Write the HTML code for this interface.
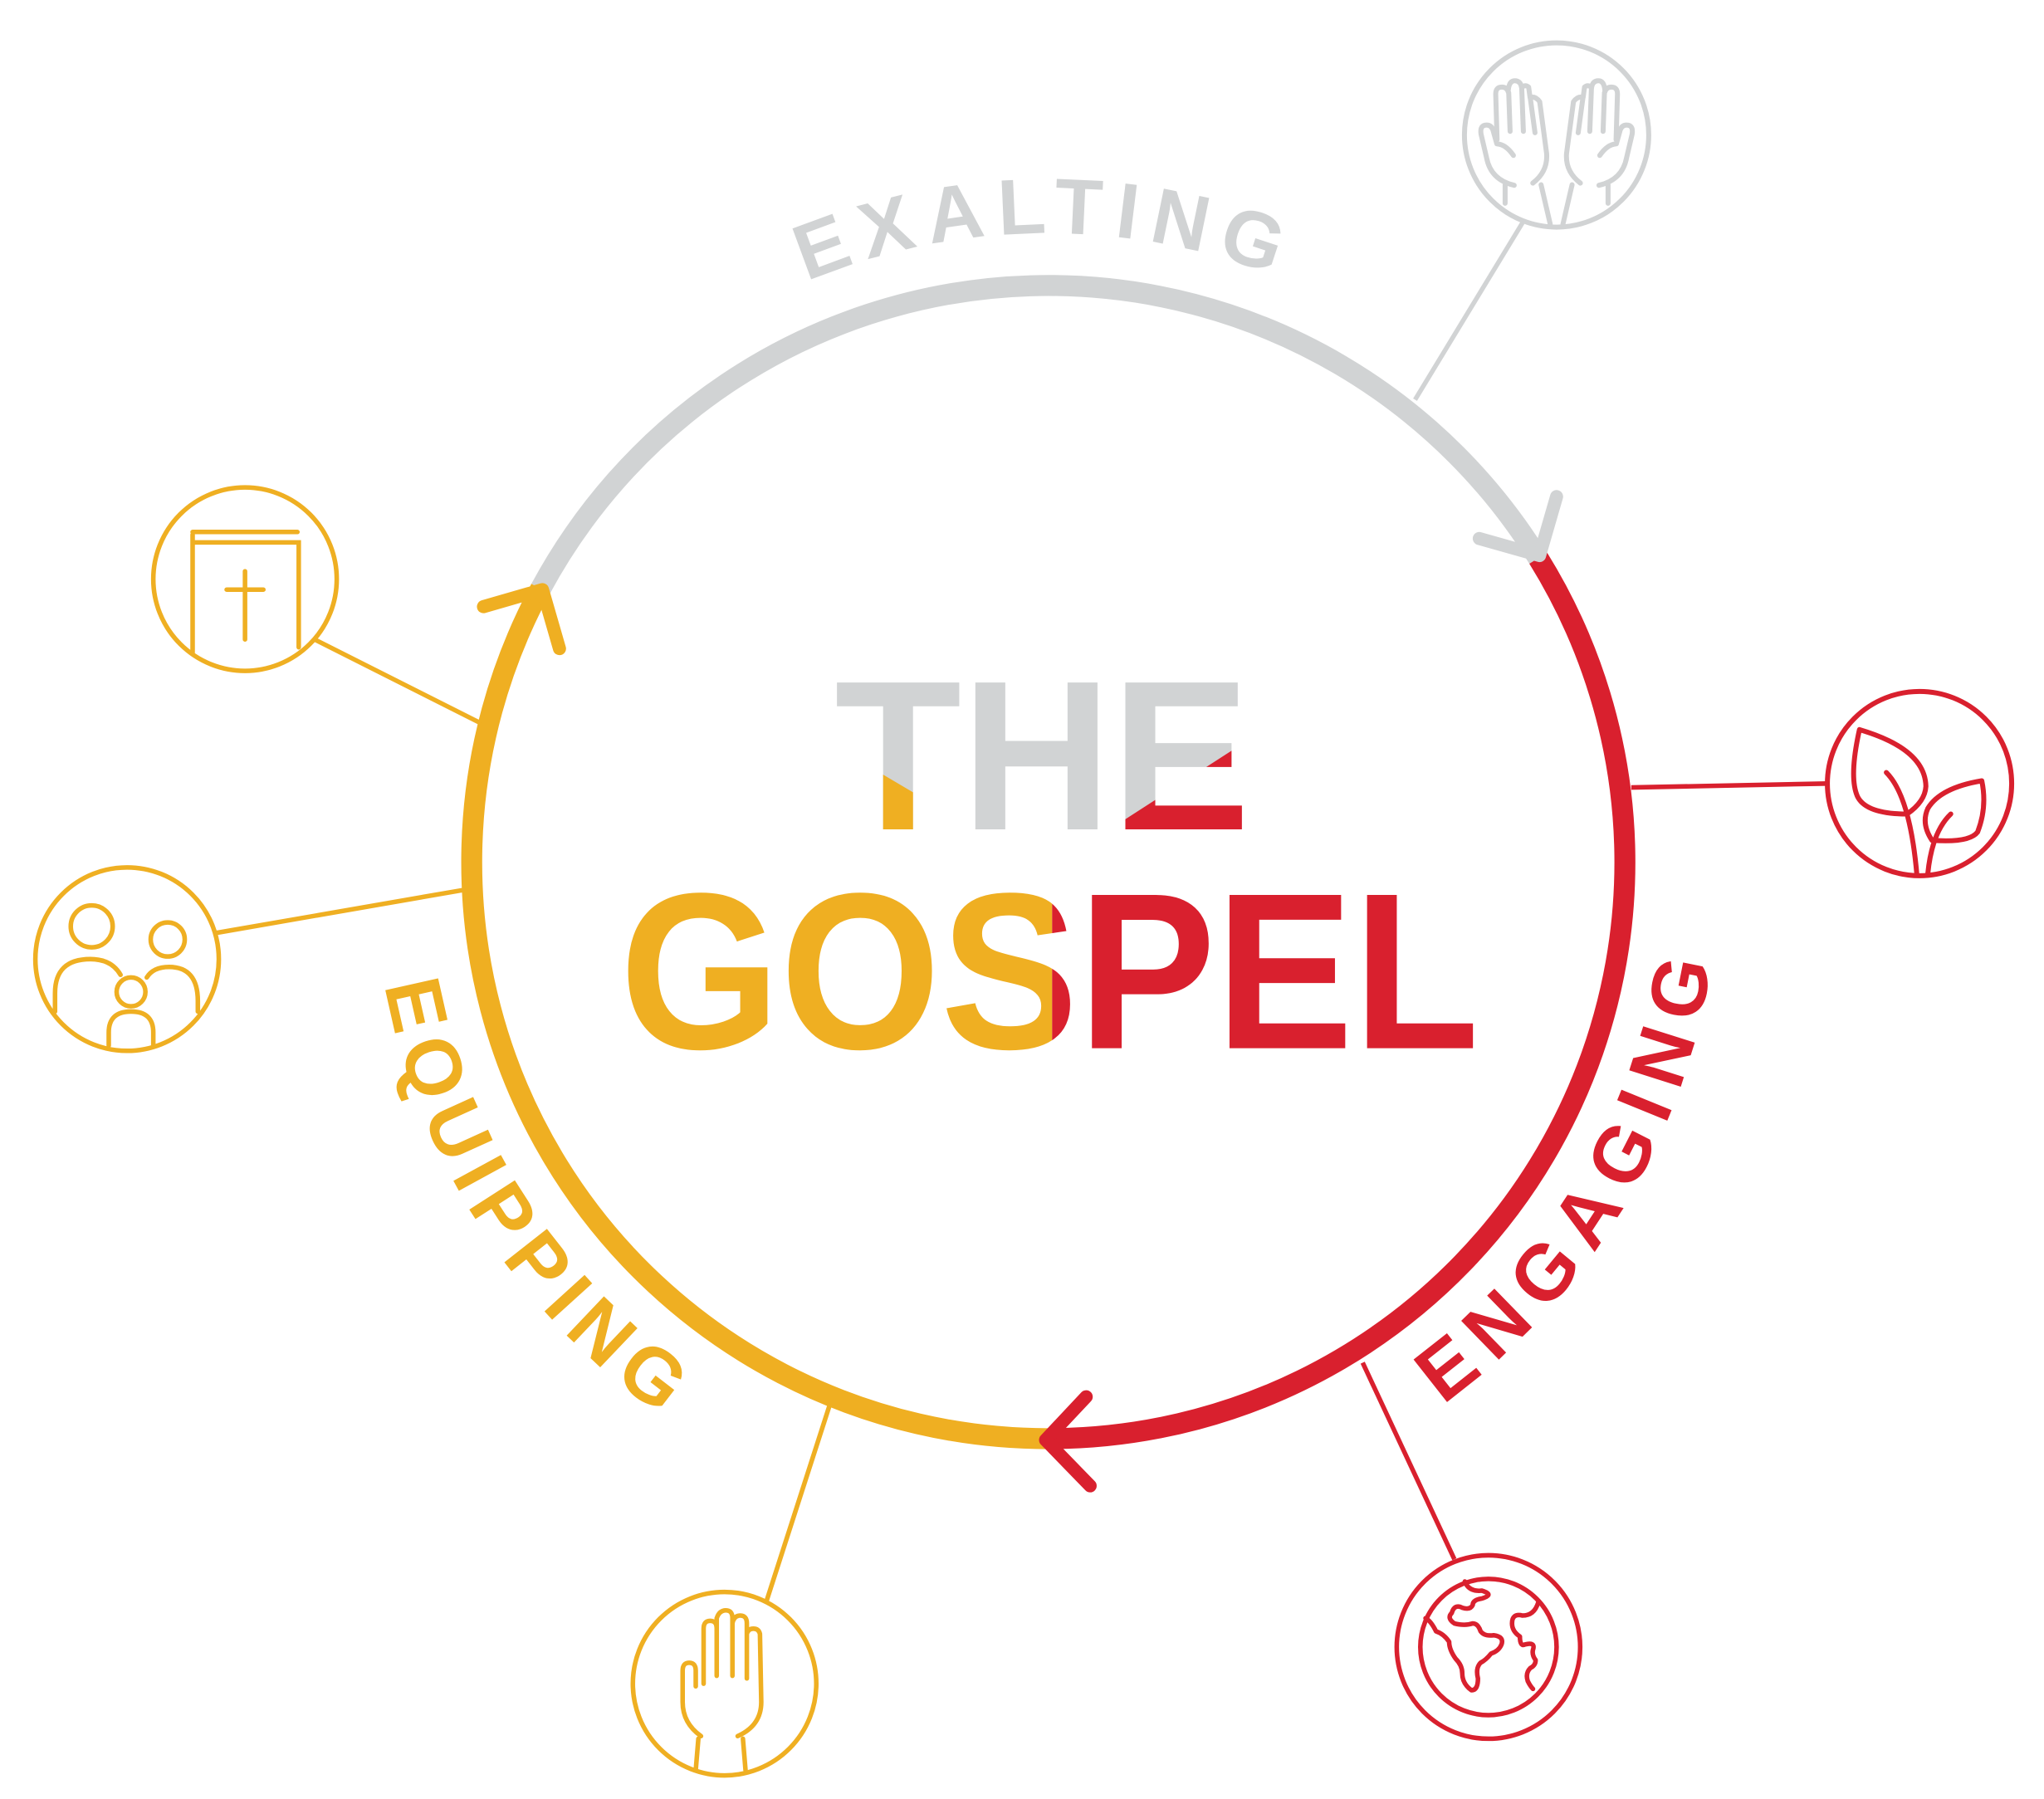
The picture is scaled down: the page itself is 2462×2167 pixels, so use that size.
<!DOCTYPE html>
<html><head><meta charset="utf-8"><style>
html,body{margin:0;padding:0;background:#fff;}
svg{display:block;}
text{font-family:"Liberation Sans",sans-serif;font-weight:bold;}
</style></head><body>
<svg width="2462" height="2167" viewBox="0 0 1560 1373" preserveAspectRatio="none" xmlns="http://www.w3.org/2000/svg">
<defs>
<clipPath id="cy"><polygon points="560,560 672,590 765,645 560,645"/></clipPath>
<clipPath id="cr"><polygon points="836,640 960,560 1010,560 1010,640"/></clipPath>
<clipPath id="sy"><rect x="0" y="600" width="803" height="250"/></clipPath>
<clipPath id="sr"><rect x="803" y="600" width="500" height="250"/></clipPath>
<path id="pEx" d="M597.2,223 A480,480 0 0 1 1002.8,223"/>
<path id="pEq" d="M293.6,751.8 A515,515 0 0 0 498,1075.2"/>
<path id="pEn" d="M1101,1072.2 A512,512 0 0 0 1305.7,738.1"/>
<g id="hand1" fill="none" stroke-linecap="round" stroke-linejoin="round">
<path d="M225,570 Q140,550 125,470 L105,385 Q100,352 125,352 Q145,352 150,377 L162,420 Q195,422 222,462"/>
<path d="M163,405 L158,240 Q158,215 180,215 Q198,215 203,232 Q205,192 227,192 Q248,192 252,218 Q262,204 277,215 L282,252 Q302,247 317,268 L342,455 Q347,520 292,562"/>
<path d="M205,235 L210,375 M252,218 L258,375 M283,255 L300,380"/>
<path d="M192,568 L192,635 M322,568 L355,710"/>
</g>
</defs>

<g fill="none" stroke-width="16">
<path d="M412.6,449.4 A440,440 0 0 1 1174,426" stroke="#d1d3d4"/>
<path d="M1174,426 A440,440 0 0 1 800,1098" stroke="#d9202e"/>
<path d="M800,1098 A440,440 0 0 1 412.6,449.4" stroke="#efaf22"/>
</g>
<g fill="none" stroke-width="10" stroke-linecap="round" stroke-linejoin="round">
<polyline points="1129,411 1175,424 1188,379" stroke="#d1d3d4"/>
<polyline points="829,1066 798,1099 832,1134" stroke="#d9202e"/>
<polyline points="369,463 414,450 427,495" stroke="#efaf22"/>
</g>

<g stroke-width="3.5" fill="none">
<line x1="1162" y1="170" x2="1080" y2="305" stroke="#d1d3d4"/>
<line x1="1245" y1="601" x2="1395" y2="598" stroke="#d9202e"/>
<line x1="1040" y1="1040" x2="1110" y2="1190" stroke="#d9202e"/>
<line x1="633" y1="1073" x2="585" y2="1222" stroke="#efaf22"/>
<line x1="165" y1="712" x2="355" y2="679" stroke="#efaf22"/>
<line x1="240" y1="488" x2="367" y2="552" stroke="#efaf22"/>
</g>

<text x="637" y="633" font-size="163" textLength="317" lengthAdjust="spacingAndGlyphs" fill="#d1d3d4">THE</text>
<text x="637" y="633" font-size="163" textLength="317" lengthAdjust="spacingAndGlyphs" fill="#efaf22" clip-path="url(#cy)">THE</text>
<text x="637" y="633" font-size="163" textLength="317" lengthAdjust="spacingAndGlyphs" fill="#d9202e" clip-path="url(#cr)">THE</text>
<text x="473" y="800" font-size="170" textLength="656" lengthAdjust="spacingAndGlyphs" fill="#efaf22" clip-path="url(#sy)">GOSPEL</text>
<text x="473" y="800" font-size="170" textLength="656" lengthAdjust="spacingAndGlyphs" fill="#d9202e" clip-path="url(#sr)">GOSPEL</text>

<text font-size="60" fill="#d1d3d4"><textPath href="#pEx" startOffset="20" textLength="365" lengthAdjust="spacing">EXALTING</textPath></text>
<text font-size="60" fill="#efaf22"><textPath href="#pEq" textLength="400" lengthAdjust="spacing">EQUIPPING</textPath></text>
<text font-size="60" fill="#d9202e"><textPath href="#pEn" textLength="405" lengthAdjust="spacing">ENGAGING</textPath></text>

<g transform="translate(1188,103) scale(0.2112) translate(-378,-388)" stroke="#d1d3d4">
<circle cx="378" cy="388" r="333" fill="none" stroke-width="18"/>
<use href="#hand1" stroke-width="18"/>
<use href="#hand1" stroke-width="18" transform="translate(756,0) scale(-1,1)"/>
</g>

<g transform="translate(1465,598) scale(0.2112) translate(-365,-385)" fill="none" stroke="#d9202e" stroke-width="18" stroke-linecap="round" stroke-linejoin="round">
<circle cx="365" cy="385" r="333"/>
<path d="M148,190 Q110,360 140,430 Q170,495 320,495 Q385,450 388,395 Q385,260 148,190 Z"/>
<path d="M245,345 Q330,430 355,710"/>
<path d="M590,375 Q610,470 575,560 Q545,600 410,590 Q370,530 395,475 Q440,400 590,375 Z"/>
<path d="M478,495 Q410,560 395,710"/>
</g>

<g transform="translate(1136,1257)" fill="none" stroke="#d9202e" stroke-width="3.5" stroke-linecap="round" stroke-linejoin="round">
<circle r="70"/>
<circle r="52"/>
<path d="M-18,-50 Q-15,-42 -5,-43 Q5,-40 -5,-37 Q-12,-36 -12,-32 Q-14,-28 -20,-30 Q-26,-33 -28,-26 Q-32,-22 -26,-18 Q-18,-16 -12,-18 Q-8,-18 -6,-12 Q-3,-8 4,-9 Q12,-8 10,-2 Q8,3 2,5 Q-2,10 -6,12 Q-10,16 -8,24 Q-8,33 -13,33 Q-20,28 -20,20 Q-20,14 -25,9 Q-30,2 -30,-4 Q-34,-10 -40,-12 Q-44,-20 -48,-22"/>
<path d="M38,-34 Q35,-24 26,-24 Q18,-26 18,-18 Q18,-12 24,-8 Q24,0 28,-2 Q36,-4 34,2 Q33,6 36,10 Q36,14 32,16 Q28,20 30,26 Q32,30 34,32"/>
</g>

<g transform="translate(553,1285)" fill="none" stroke="#efaf22" stroke-width="3.5" stroke-linecap="round" stroke-linejoin="round">
<circle r="70"/>
<path d="M-18,40 Q-32,30 -32,14 L-32,-10 Q-32,-16 -27,-16 Q-22,-16 -22,-10 L-22,2"/>
<path d="M-16,0 L-16,-42 Q-16,-48 -11,-48 Q-6,-48 -6,-42 L-6,-6 M-6,-42 L-6,-50 Q-4,-56 1,-56 Q6,-56 6,-50 L6,-6 M6,-46 Q7,-52 12,-52 Q17,-52 17,-46 L17,-4 M17,-38 Q18,-42 22,-42 Q26,-42 27,-38 L28,14 Q28,32 10,40"/>
<path d="M-20,42 L-22,66 M14,42 L16,66"/>
</g>

<g transform="translate(97,732)" fill="none" stroke="#efaf22" stroke-width="3.5" stroke-linecap="round">
<circle r="70"/>
<circle cx="-27" cy="-25" r="16"/>
<circle cx="31" cy="-15" r="13"/>
<circle cx="3" cy="25" r="11"/>
<path d="M-55,40 L-55,26 Q-55,0 -28,0 Q-12,0 -5,12"/>
<path d="M15,14 Q20,6 32,6 Q54,6 54,32 L54,40"/>
<path d="M-14,66 L-14,56 Q-14,40 3,40 Q20,40 20,56 L20,66"/>
</g>

<g transform="translate(187,442)" fill="none" stroke="#efaf22" stroke-width="3.5" stroke-linecap="round">
<circle r="70"/>
<path d="M-40,56 L-40,-34 M-40,-36 L40,-36 M-40,-28 L41,-28 L41,52"/>
<path d="M0,-6 L0,46 M-14,8 L14,8"/>
</g>
</svg>
</body></html>
